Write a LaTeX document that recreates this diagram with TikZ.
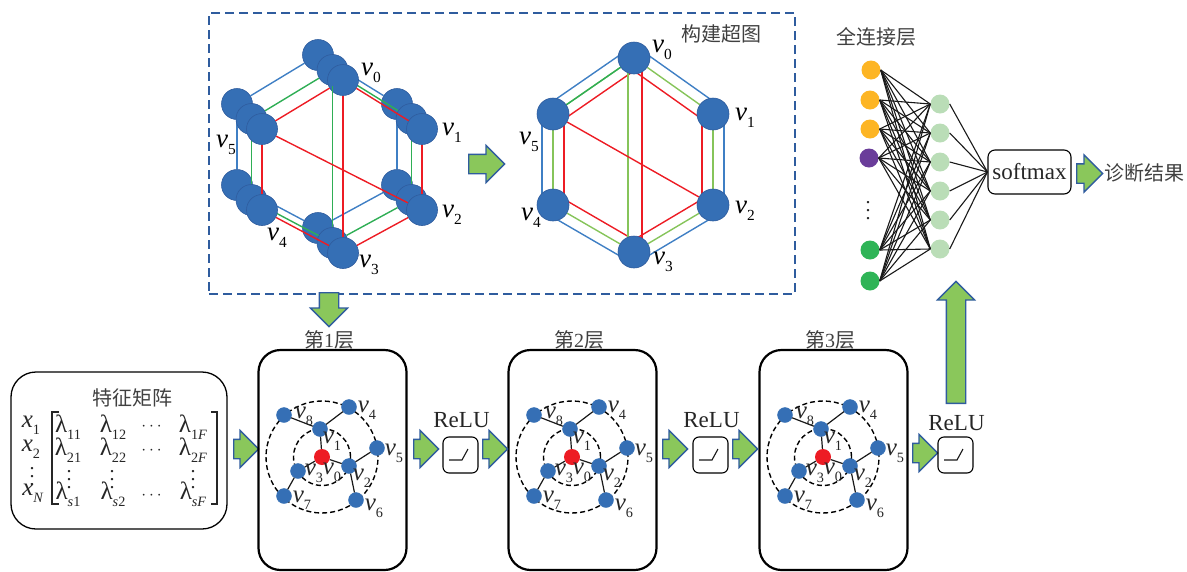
\documentclass[tikz,border=0pt]{standalone}
\usepackage{amsmath}
\usepackage{graphicx}
\usepackage{fontspec}
\usepackage{tikz}
\usetikzlibrary{positioning,calc,shapes,shapes.arrows,backgrounds}
\setmainfont{Liberation Serif}
\newfontfamily\cjk{Noto Sans CJK SC}
\definecolor{nodeblue}{HTML}{356FB5}
\definecolor{edgeblue}{HTML}{3F7FC4}
\definecolor{edgegreen}{HTML}{2FAE55}
\definecolor{edgelime}{HTML}{86C45A}
\definecolor{edgered}{HTML}{ED1C24}
\definecolor{arrowfill}{HTML}{8AC75B}
\definecolor{arrowline}{HTML}{2F5C9E}
\definecolor{cjkgrey}{HTML}{404040}
\definecolor{fcorange}{HTML}{FDB524}
\definecolor{fcpurple}{HTML}{6A3D9A}
\definecolor{fcgreen}{HTML}{2FB457}
\definecolor{fclight}{HTML}{BADDB7}
\newcommand{\sbs}[1]{\raisebox{-.28em}{\scalebox{.57}{#1}}}
\newcommand{\vx}[1]{\textit{v}\sbs{#1}}
\newcommand{\lam}[1]{λ\sbs{#1}}
\newcommand{\vd}{\scalebox{2}{\fontsize{10}{10}\selectfont$\vdots$}}
\tikzstyle{hnod}= [circle, draw=arrowline, fill=nodeblue, line width=0.6pt, inner sep=0pt, minimum size=31pt]
\tikzstyle{gnod}= [circle, draw=nodeblue, fill=nodeblue, inner sep=0pt, minimum size=15pt]
\tikzstyle{fcnod}= [circle, inner sep=0pt, minimum size=19pt]
\tikzstyle{ring}= [circle, draw, dash pattern=on 5pt off 3pt, line width=1.4pt, inner sep=0pt]
\tikzstyle{hlab}= [inner sep=0pt, font=\fontsize{27}{27}\selectfont]
\tikzstyle{mlab}= [inner sep=0pt, text=black!85, font=\fontsize{25}{25}\selectfont]
\tikzstyle{glab}= [inner sep=0pt, text=black!85, font=\fontsize{25}{25}\selectfont]
\tikzstyle{cjklab}= [inner sep=0pt, text=cjkgrey, font=\fontsize{20}{20}\selectfont\cjk]
\tikzstyle{latin}= [inner sep=0pt, text=black!85, font=\fontsize{23}{23}\selectfont]
\tikzstyle{blockarrow}= [single arrow, anchor=tail, draw=arrowline, fill=arrowfill, line width=1.3pt, inner ysep=9pt, inner xsep=0pt, single arrow head extend=9pt, minimum height=25pt]
\tikzstyle{layerbox}= [draw, rounded corners=22pt, line width=2.2pt, minimum width=148pt, minimum height=220pt]
\tikzstyle{relubox}= [draw, rounded corners=6pt, line width=1.1pt, minimum width=35pt, minimum height=36pt]
\begin{document}
\begin{tikzpicture}[x=1pt,y=-1pt]
	\useasboundingbox (0,0) rectangle (1187,571);
	\node[draw=arrowline, dash pattern=on 9pt off 5pt, line width=1.3pt, minimum width=586pt, minimum height=281pt, inner sep=0pt] (hyperbox) at (502,153.5) {};
	\node[cjklab] (hypertitle) at (721,34) {构建超图};
	\foreach \L/\dx/\dy/\col in {a/-25/-25/edgeblue, b/-10.5/-10/edgegreen, c/0/0/edgered} {
		\foreach \i/\x/\y in {0/343/80, 1/422/129, 2/422/210, 3/343/253, 4/262/210, 5/262/129}
			\node[hnod] (\L\i) at (\x+\dx,\y+\dy) {};
		\foreach \a/\b in {0/1, 1/2, 2/3, 3/4, 4/5, 5/0}
			\draw[\col, line width=1.4pt] (\L\a) -- (\L\b);
	}
	\draw[edgegreen, line width=1.4pt] (b0) -- (b3);
	\draw[edgered, line width=1.4pt] (c0) -- (c3);
	\draw[edgered, line width=1.4pt] (c5) -- (c2);
	\foreach \i/\x/\y in {0/371/73, 1/452/133, 2/452/215, 3/369/265, 4/277/238, 5/226/145}
		\node[hlab] (ll\i) at (\x,\y) {\vx{\i}};
	\node[blockarrow, minimum height=36pt] (hexarrow) at (468,164) {};
	\foreach \i/\x/\y in {0/634/58, 1/713/114, 2/713/205, 3/634/252, 4/553/205, 5/553/114}
		\node[hnod, minimum size=32pt] (r\i) at (\x,\y) {};
	\begin{scope}[on background layer]
		\foreach \a/\b/\sx/\sy in {0/1/5.5/-9, 1/2/11/0, 2/3/5.5/9, 3/4/-5.5/9, 4/5/-11/0, 5/0/-5.5/-9} {
			\draw[edgeblue, line width=1.4pt] ([shift={(\sx,\sy)}]r\a.center) -- ([shift={(\sx,\sy)}]r\b.center);
			\draw[edgelime, line width=1.4pt] (r\a) -- (r\b);
			\draw[edgered, line width=1.4pt] ([shift={(-1*\sx,-1*\sy)}]r\a.center) -- ([shift={(-1*\sx,-1*\sy)}]r\b.center);
		}
		\draw[edgegreen, line width=1.4pt] (r5) -- (r0);
		\draw[edgelime, line width=1.4pt] ([xshift=-6pt]r0.center) -- ([xshift=-6pt]r3.center);
		\draw[edgered, line width=1.4pt] ([xshift=8pt]r0.center) -- ([xshift=8pt]r3.center);
		\draw[edgered, line width=1.4pt] (r5) -- (r2);
	\end{scope}
	\foreach \i/\x/\y in {0/662/50, 1/745/118, 2/745/211, 3/663/262, 4/531/218, 5/529/142}
		\node[hlab] (rl\i) at (\x,\y) {\vx{\i}};
	\node[blockarrow, minimum height=34pt, rotate=-90] (downarrow) at (329,292) {};

	\node[draw, rounded corners=25pt, line width=1.3pt, minimum width=216pt, minimum height=157pt, inner sep=0pt] (matbox) at (119,450.5) {};
	\node[cjklab] (mattitle) at (132,398) {特征矩阵};
	\node[mlab] (x1) at (31,425) {\textit{x}\sbs{1}};
	\node[mlab] (x2) at (31,449) {\textit{x}\sbs{2}};
	\node[mlab] (xd) at (32,471) {\vd};
	\node[mlab] (xn) at (33,493) {\textit{x}\sbs{\textit{N}}};
	\draw[line width=1.3pt, black!85] (59,412) -- (52,412) -- (52,504) -- (59,504);
	\draw[line width=1.3pt, black!85] (211,412) -- (217,412) -- (217,504) -- (211,504);
	\foreach \idx/\x/\y in {11/68/427, 12/113/427, 1\textit{F}/193/427, 21/68/450, 22/113/450, 2\textit{F}/193/450, \textit{s}1/68/494, \textit{s}2/113/494, \textit{sF}/193/494}
		\node[mlab] at (\x,\y) {\lam{\idx}};
	\foreach \x/\y in {153/427, 153/451, 153/496}
		\node[mlab, font=\fontsize{18}{18}\selectfont] at (\x,\y) {$\cdots$};
	\foreach \x in {69, 112, 193}
		\node[mlab] at (\x,474) {\vd};
	\node[blockarrow] (inarrow) at (233,449) {};

	\foreach \dx/\n in {0/1, 250/2, 501/3} {
		\begin{scope}[xshift=\dx]
			\node[layerbox] (box\n) at (332.5,460) {};
			\node[latin, text=cjkgrey, font=\fontsize{20}{20}\selectfont] (title\n) at (329,340) {{\cjk 第}\n{\cjk 层}};
			\node[ring, minimum size=112pt] (outer\n) at (322,457) {};
			\node[ring, minimum size=57pt] (inner\n) at (322,457) {};
			\node[circle, fill=edgered, inner sep=0pt, minimum size=16pt] (g\n0) at (322,457) {};
			\foreach \i/\x/\y in {1/320/429, 2/349/466, 3/298/471, 4/349/407, 5/377/448, 6/356/500, 7/284/496, 8/284/415}
				\node[gnod] (g\n\i) at (\x,\y) {};
			\foreach \a/\b in {0/1, 0/2, 0/3, 1/4, 1/8, 2/5, 2/6, 3/7}
				\draw[line width=1.2pt, black!90] (g\n\a) -- (g\n\b);
			\foreach \i/\x/\y in {0/332/472, 1/332/441, 2/362/478, 3/314/473, 4/367/410, 5/394/453, 6/374/508, 7/302/500, 8/304/416}
				\node[glab] at (\x,\y) {\vx{\i}};
		\end{scope}
	}
	\foreach \x/\y in {413/449, 482/449, 662/449, 732/449, 912/453}
		\node[blockarrow] at (\x,\y) {};
	\foreach \n/\x/\t in {1/460.5/420, 2/710.5/420, 3/955.5/423} {
		\node[relubox] (relu\n) at (\x,455) {};
		\node[latin] (relutext\n) at (\x+1,\t) {ReLU};
		\draw[line width=1.1pt, black!90] ([shift={(-11.5,5)}]relu\n.center) -- ++(13,0) -- ++(6,-11);
	}
	\node[blockarrow, minimum height=122pt, rotate=90] (uparrow) at (956,404) {};

	\node[cjklab] (fctitle) at (876,37) {全连接层};
	\node[fcnod, fill=fcorange] (p1) at (871,70) {};
	\node[fcnod, fill=fcorange] (p2) at (870,100) {};
	\node[fcnod, fill=fcorange] (p3) at (870,129) {};
	\node[fcnod, fill=fcpurple] (p4) at (869,158) {};
	\node[fcnod, fill=fcgreen] (p5) at (870,250) {};
	\node[fcnod, fill=fcgreen] (p6) at (870,281) {};
	\node[mlab] (pd) at (868,205) {\vd};
	\foreach \i/\y in {1/104, 2/133, 3/162, 4/191, 5/220, 6/249}
		\node[fcnod, fill=fclight] (q\i) at (940,\y) {};
	\node[latin, draw=black, text=black!85, rounded corners=7pt, line width=1.1pt, minimum width=83pt, minimum height=44pt] (softmax) at (1029.5,172) {softmax};
	\foreach \a in {1,...,6} {
		\foreach \b in {1,...,6}
			\draw[line width=1.1pt, black!90] (p\a.east) -- (q\b.west);
		\draw[line width=1.1pt, black!90] (q\a.east) -- (softmax.west);
	}
	\node[blockarrow, minimum height=26pt] (outarrow) at (1076,173.5) {};
	\node[cjklab] (result) at (1144,173) {诊断结果};
\end{tikzpicture}
\end{document}
